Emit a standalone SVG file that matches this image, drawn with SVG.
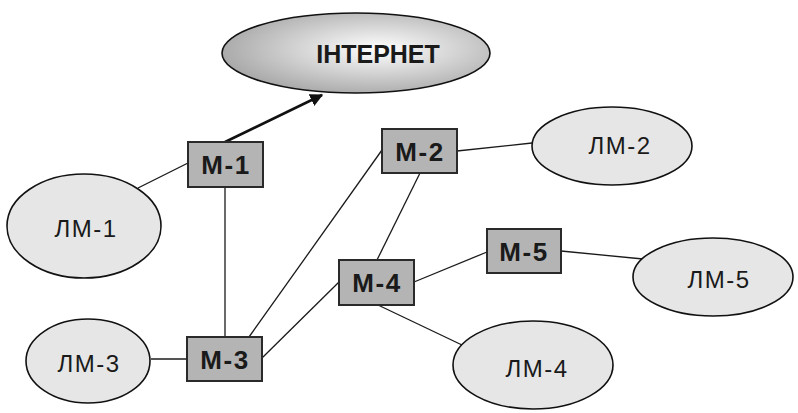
<svg xmlns="http://www.w3.org/2000/svg" width="798" height="413" viewBox="0 0 798 413">
<style>
.lm{fill:#e6e6e6;stroke:#111;stroke-width:1.6}
.box{fill:#b4b4b4;stroke:#2a2a2a;stroke-width:2}
.bt{font-family:"Liberation Sans",Arial,sans-serif;font-weight:bold;font-size:26px;fill:#1a1a1a;text-anchor:middle;letter-spacing:1.5px}
.lt{font-family:"Liberation Sans",Arial,sans-serif;font-size:24px;fill:#1a1a1a;text-anchor:middle;letter-spacing:1.5px}
.ln{stroke:#1a1a1a;stroke-width:1.3;fill:none}
</style>
<defs>
<radialGradient id="g" cx="0.58" cy="0.45" r="0.65">
<stop offset="0" stop-color="#ffffff"/>
<stop offset="1" stop-color="#a0a0a0"/>
</radialGradient>
<marker id="ah" viewBox="0 0 10 10" refX="9" refY="5" markerWidth="5" markerHeight="5" orient="auto" markerUnits="strokeWidth">
<path d="M0,0 L10,5 L0,10 z" fill="#111"/>
</marker>
</defs>
<g id="connectors">
<line x1="225" y1="142" x2="322" y2="95" style="stroke:#111;stroke-width:2.6" marker-end="url(#ah)"/>
<line class="ln" x1="138" y1="188" x2="188" y2="163"/>
<line class="ln" x1="225" y1="187" x2="225" y2="337"/>
<line class="ln" x1="382" y1="150" x2="249" y2="337"/>
<line class="ln" x1="457" y1="151" x2="532" y2="143"/>
<line class="ln" x1="420" y1="173" x2="377" y2="260"/>
<line class="ln" x1="262" y1="358" x2="339" y2="282"/>
<line x1="151" y1="359" x2="187" y2="359" stroke="#555" stroke-width="2"/>
<line class="ln" x1="414" y1="282" x2="487" y2="252"/>
<line class="ln" x1="561" y1="251" x2="643" y2="259"/>
<line class="ln" x1="378" y1="305" x2="462" y2="345"/>
</g>
<g id="internet">
<ellipse cx="356" cy="53" rx="134" ry="40" fill="url(#g)" stroke="#111" stroke-width="1.6"/>
<text class="bt" x="378" y="63" style="letter-spacing:0;font-size:25px">ІНТЕРНЕТ</text>
</g>
<g id="m1"><rect class="box" x="188" y="142" width="75" height="45"/><text class="bt" x="226" y="174">M-1</text></g>
<g id="m2"><rect class="box" x="382" y="129" width="75" height="44"/><text class="bt" x="420" y="161">M-2</text></g>
<g id="m3"><rect class="box" x="187" y="337" width="75" height="44"/><text class="bt" x="225" y="369">M-3</text></g>
<g id="m4"><rect class="box" x="339" y="260" width="75" height="45"/><text class="bt" x="377" y="292">M-4</text></g>
<g id="m5"><rect class="box" x="487" y="229" width="74" height="44"/><text class="bt" x="524" y="261">M-5</text></g>
<g id="lm1"><ellipse class="lm" cx="84" cy="226" rx="77" ry="52"/><text class="lt" x="86" y="237">ЛМ-1</text></g>
<g id="lm2"><ellipse class="lm" cx="612" cy="146" rx="80" ry="39"/><text class="lt" x="620" y="154">ЛМ-2</text></g>
<g id="lm3"><ellipse class="lm" cx="88" cy="361" rx="62" ry="42"/><text class="lt" x="89" y="372">ЛМ-3</text></g>
<g id="lm4"><ellipse class="lm" cx="533" cy="365" rx="80" ry="44"/><text class="lt" x="537" y="377">ЛМ-4</text></g>
<g id="lm5"><ellipse class="lm" cx="713" cy="277" rx="80" ry="39"/><text class="lt" x="719" y="288">ЛМ-5</text></g>
</svg>
